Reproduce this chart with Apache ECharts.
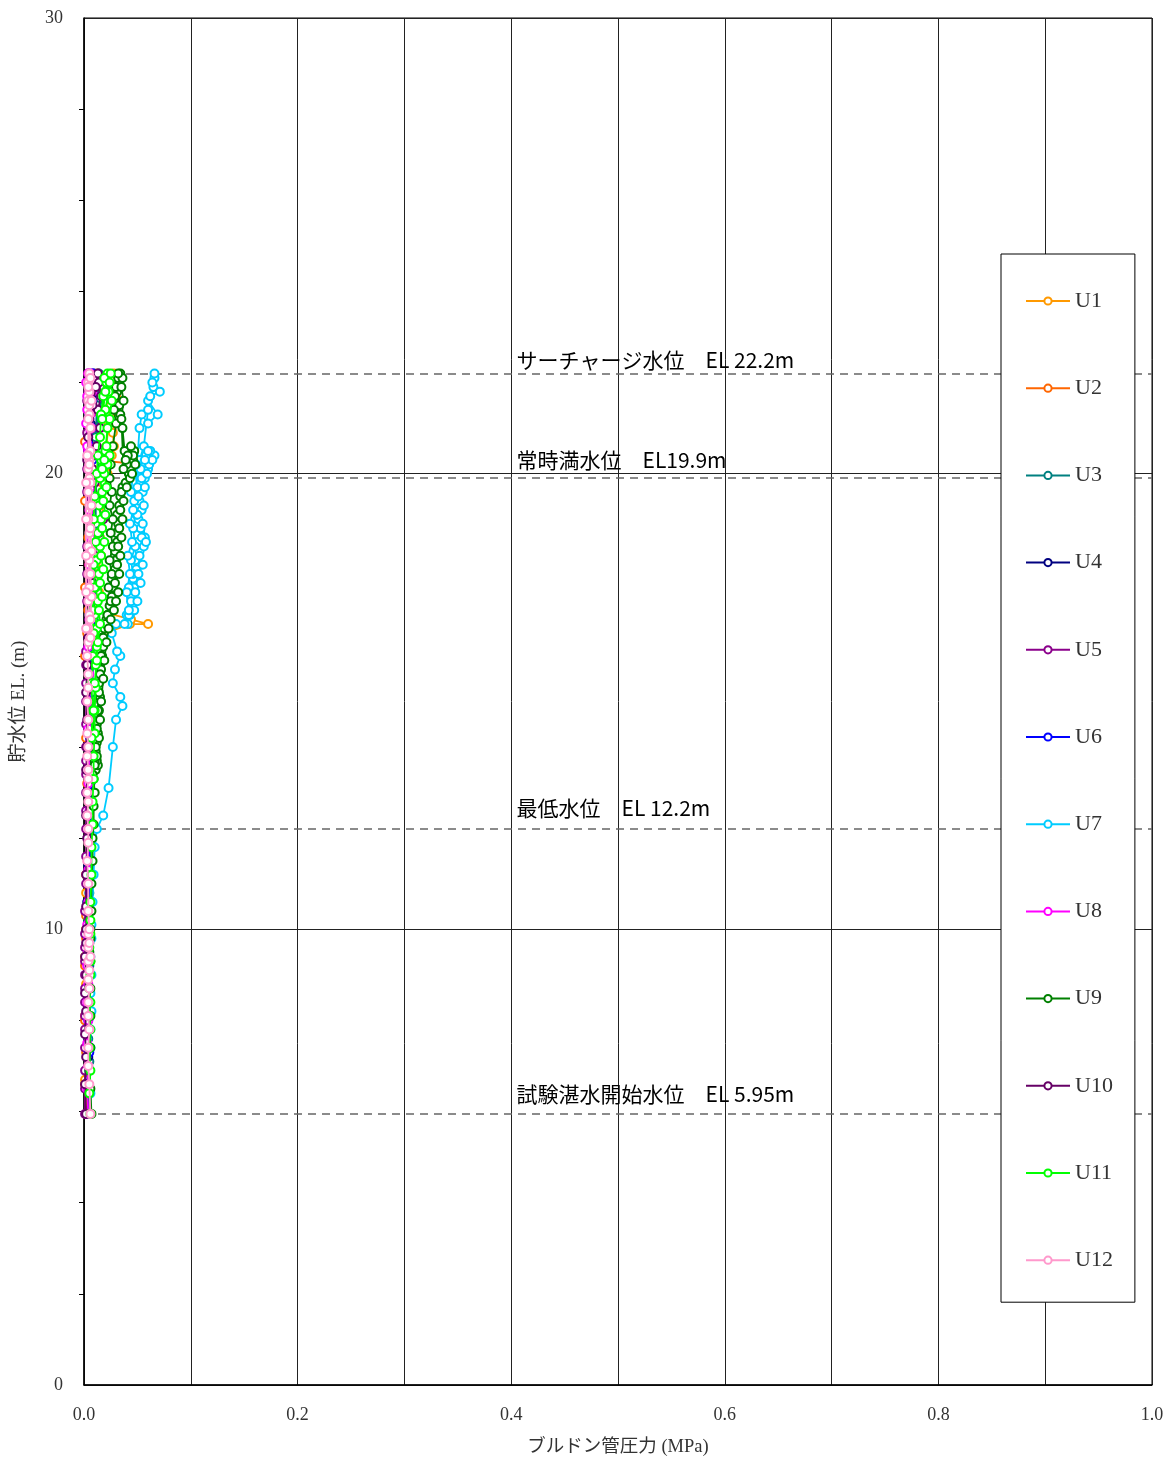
<!DOCTYPE html>
<html><head><meta charset="utf-8">
<script src="https://cdn.jsdelivr.net/npm/echarts@6/dist/echarts.min.js"></script>
<style>html,body{margin:0;padding:0;background:#fff}#c{width:1173px;height:1459px}</style>
</head><body><div id="c"></div>
<script>
const seriesNames = ['U1','U2','U3','U4','U5','U6','U7','U8','U9','U10','U11','U12'];
const seriesColors = ['#FF9900','#FF6600','#008080','#000080','#8B008B','#0000FF','#00CCFF','#FF00FF','#008000','#660066','#00FF00','#FF99CC'];
const xTicks = [0,0.2,0.4,0.6,0.8,1.0];
const refLevels = [22.2, 19.9, 12.2, 5.95];
const refTexts = ['サーチャージ水位　EL 22.2m','常時満水位　EL19.9m','最低水位　EL 12.2m','試験湛水開始水位　EL 5.95m'];

const U1 = [[0.002,5.95],[0.001,6.7],[0.002,7.4],[0.001,8.1],[0.002,8.8],[0.001,9.4],[0.002,10.0],[0.002,10.8],[0.003,11.6],[0.003,12.2],[0.004,13.0],[0.004,13.8],[0.005,14.6],[0.005,15.3],[0.006,16.0],[0.008,16.4],[0.043,16.7],[0.060,16.7],[0.044,16.8],[0.012,17.0],[0.014,17.4],[0.013,17.8],[0.016,18.2],[0.015,18.6],[0.017,19.0],[0.018,19.4],[0.020,19.7],[0.022,20.0],[0.024,20.2],[0.026,20.4],[0.028,20.6],[0.027,20.9],[0.029,21.2],[0.026,21.5],[0.030,21.7],[0.031,21.9],[0.029,22.1],[0.028,22.2],[0.027,21.9],[0.025,21.5],[0.023,21.1],[0.021,20.6],[0.019,20.2],[0.017,19.8],[0.015,19.3]];
const U2 = [[0.002,5.95],[0.001,6.6],[0.002,7.3],[0.001,8.0],[0.002,8.6],[0.001,9.2],[0.002,9.8],[0.002,10.3],[0.002,11.2],[0.003,12.2],[0.003,13.2],[0.002,14.2],[0.003,15.2],[0.001,16.0],[0.003,16.5],[0.004,17.0],[0.001,17.5],[0.005,18.0],[0.004,18.6],[0.006,19.2],[0.001,19.4],[0.007,19.8],[0.009,20.2],[0.001,20.7],[0.010,21.2],[0.012,21.7],[0.013,22.2],[0.011,21.8],[0.009,21.0],[0.010,20.3],[0.056,20.2]];
const U3 = [[0.005,5.95],[0.004,6.5],[0.005,7.1],[0.004,7.6],[0.005,8.2],[0.004,8.7],[0.005,9.2],[0.005,9.7],[0.004,10.2],[0.005,10.8],[0.006,11.5],[0.006,12.2],[0.007,13.0],[0.007,13.8],[0.008,14.6],[0.008,15.4],[0.009,16.2],[0.009,16.8],[0.010,17.5],[0.010,18.2],[0.011,18.9],[0.011,19.5],[0.012,20.0],[0.012,20.4],[0.013,21.0],[0.013,21.6],[0.014,22.2],[0.012,21.5],[0.011,20.8],[0.010,20.2]];
const U4 = [[0.004,5.95],[0.003,6.6],[0.004,7.2],[0.003,7.8],[0.004,8.4],[0.003,9.0],[0.004,9.5],[0.004,10.0],[0.003,10.6],[0.004,11.4],[0.004,12.2],[0.005,13.0],[0.004,13.8],[0.005,14.6],[0.005,15.4],[0.006,16.2],[0.005,16.9],[0.006,17.6],[0.006,18.3],[0.007,19.0],[0.006,19.6],[0.007,20.1],[0.008,20.5],[0.007,21.0],[0.008,21.6],[0.009,22.2],[0.007,21.7],[0.006,21.1],[0.006,20.4]];
const U5 = [[0.001,5.95],[0.001,6.5],[0.001,6.9],[0.001,7.4],[0.001,7.8],[0.001,8.1],[0.001,8.4],[0.001,8.7],[0.001,9.0],[0.001,9.3],[0.001,9.6],[0.001,9.9],[0.001,10.4],[0.002,11.0],[0.002,11.6],[0.002,12.2],[0.002,12.6],[0.002,13.0],[0.002,13.4],[0.002,13.7],[0.002,14.0],[0.002,14.5],[0.002,15.0],[0.002,15.4],[0.002,15.8],[0.002,16.1],[0.003,16.6],[0.003,17.2],[0.003,17.8],[0.003,18.4],[0.003,19.0],[0.003,19.6],[0.003,20.1],[0.004,20.5],[0.004,21.2],[0.004,21.8],[0.004,22.2],[0.003,21.6],[0.003,20.9]];
const U6 = [[0.005,5.95],[0.004,6.6],[0.005,7.3],[0.004,8.0],[0.005,8.6],[0.004,9.2],[0.005,9.8],[0.005,10.4],[0.005,11.2],[0.006,12.2],[0.006,13.2],[0.006,14.2],[0.007,15.2],[0.007,16.0],[0.006,16.7],[0.007,17.4],[0.008,18.0],[0.007,18.7],[0.008,19.3],[0.009,19.9],[0.008,20.3],[0.006,20.6],[0.005,21.2],[0.007,21.6],[0.009,21.9],[0.010,22.1],[0.008,22.2],[0.006,21.8],[0.005,21.3]];
const U7 = [[0.006,5.95],[0.006,6.4],[0.005,6.9],[0.006,7.4],[0.006,7.8],[0.007,8.2],[0.006,8.6],[0.007,9.0],[0.006,9.4],[0.007,9.8],[0.007,10.1],[0.008,10.6],[0.009,11.2],[0.010,11.8],[0.012,12.2],[0.018,12.5],[0.023,13.1],[0.027,14.0],[0.030,14.6],[0.036,14.9],[0.034,15.1],[0.027,15.4],[0.029,15.7],[0.034,16.0],[0.031,16.1],[0.026,16.5],[0.030,16.7],[0.041,16.7],[0.043,16.9],[0.045,17.1],[0.044,17.3],[0.047,17.5],[0.046,17.7],[0.049,17.9],[0.048,18.1],[0.052,18.3],[0.050,18.5],[0.057,18.6],[0.053,18.8],[0.051,19.0],[0.054,19.2],[0.052,19.4],[0.055,19.6],[0.053,19.8],[0.057,19.9],[0.060,20.1],[0.063,20.3],[0.066,20.4],[0.062,20.5],[0.058,20.4],[0.054,20.2],[0.050,20.3],[0.052,21.0],[0.054,21.3],[0.060,21.1],[0.069,21.3],[0.060,21.6],[0.065,21.9],[0.066,22.1],[0.066,22.2],[0.064,22.0],[0.071,21.8],[0.062,21.7],[0.060,21.4],[0.056,20.6],[0.052,20.3],[0.048,20.0],[0.050,19.7],[0.047,19.4],[0.049,19.1],[0.046,18.8],[0.048,18.4],[0.044,18.1],[0.046,17.8],[0.042,17.5],[0.044,17.2],[0.040,16.9],[0.038,16.7],[0.042,16.9],[0.047,17.0],[0.050,17.2],[0.048,17.4],[0.053,17.6],[0.051,17.8],[0.055,18.0],[0.052,18.2],[0.056,18.4],[0.054,18.6],[0.058,18.5],[0.055,18.9],[0.050,19.1],[0.056,19.3],[0.051,19.5],[0.057,19.7],[0.054,19.9],[0.059,20.0],[0.061,20.2],[0.064,20.3],[0.060,20.5],[0.057,20.3],[0.053,20.1],[0.049,20.2],[0.046,20.0],[0.044,19.6],[0.046,19.2],[0.043,18.9],[0.045,18.5],[0.041,18.2],[0.043,17.8],[0.040,17.4],[0.042,17.0]];
const U8 = [[0.004,5.95],[0.003,6.5],[0.004,7.0],[0.003,7.5],[0.004,8.0],[0.003,8.4],[0.004,8.8],[0.003,9.2],[0.004,9.5],[0.004,9.8],[0.003,10.1],[0.004,10.6],[0.004,11.3],[0.004,12.0],[0.005,12.6],[0.004,13.2],[0.005,13.8],[0.004,14.4],[0.005,15.0],[0.005,15.6],[0.004,16.2],[0.005,16.8],[0.006,17.4],[0.005,18.0],[0.006,18.6],[0.005,19.2],[0.006,19.7],[0.007,20.1],[0.006,20.4],[0.007,21.0],[0.006,21.5],[0.008,21.8],[0.007,22.0],[0.006,22.2],[0.005,21.9],[0.007,21.6],[0.006,21.3],[0.004,20.5],[0.005,20.2],[0.003,20.6],[0.002,21.1],[0.003,21.4],[0.003,21.7],[0.002,22.0],[0.004,22.2]];
const U9 = [[0.007,5.95],[0.006,6.5],[0.005,6.9],[0.006,7.4],[0.005,7.8],[0.006,8.1],[0.005,8.4],[0.006,8.7],[0.005,9.0],[0.006,9.3],[0.005,9.5],[0.006,9.8],[0.006,10.0],[0.007,10.4],[0.007,11.0],[0.008,11.5],[0.008,12.0],[0.009,12.3],[0.009,12.7],[0.010,13.0],[0.009,13.3],[0.011,13.5],[0.013,13.6],[0.012,13.7],[0.011,13.9],[0.012,14.1],[0.013,14.3],[0.012,14.5],[0.014,14.8],[0.015,15.1],[0.014,15.4],[0.016,15.7],[0.017,16.0],[0.018,16.2],[0.017,16.4],[0.019,16.6],[0.021,16.8],[0.022,16.9],[0.024,17.1],[0.026,17.3],[0.027,17.5],[0.026,17.7],[0.029,17.9],[0.030,18.1],[0.029,18.3],[0.031,18.5],[0.030,18.7],[0.032,18.9],[0.031,19.1],[0.033,19.3],[0.034,19.5],[0.036,19.7],[0.039,19.8],[0.042,20.0],[0.044,20.1],[0.046,20.3],[0.047,20.5],[0.043,20.4],[0.040,20.2],[0.038,20.5],[0.036,21.0],[0.034,21.3],[0.033,21.5],[0.031,21.8],[0.033,22.0],[0.034,22.2],[0.032,22.1],[0.030,21.9],[0.029,21.7],[0.028,21.4],[0.030,21.1],[0.027,20.6],[0.025,20.2],[0.024,19.9],[0.026,19.6],[0.024,19.3],[0.027,19.0],[0.025,18.7],[0.027,18.4],[0.024,18.1],[0.026,17.8],[0.023,17.5],[0.025,17.2],[0.022,16.9],[0.020,16.7],[0.018,16.4],[0.016,16.0],[0.015,15.6],[0.014,15.2],[0.013,14.8],[0.012,14.4],[0.011,14.0],[0.010,13.7],[0.008,13.4],[0.010,13.6],[0.012,13.8],[0.014,14.2],[0.015,14.6],[0.016,15.0],[0.018,15.5],[0.019,15.9],[0.021,16.3],[0.023,16.6],[0.025,16.8],[0.028,17.0],[0.030,17.2],[0.032,17.4],[0.029,17.6],[0.033,17.8],[0.031,18.0],[0.034,18.2],[0.032,18.4],[0.035,18.6],[0.033,18.8],[0.036,19.0],[0.034,19.2],[0.037,19.4],[0.035,19.6],[0.040,19.7],[0.043,19.9],[0.045,20.0],[0.048,20.2],[0.046,20.4],[0.044,20.6],[0.041,20.4],[0.039,20.3],[0.037,20.1],[0.035,21.2],[0.037,21.6],[0.035,21.9],[0.036,22.1],[0.032,22.2]];
const U10 = [[0.002,5.95],[0.001,6.6],[0.002,7.2],[0.001,7.7],[0.002,8.2],[0.001,8.6],[0.002,9.0],[0.001,9.4],[0.002,9.7],[0.002,10.0],[0.002,10.5],[0.002,11.2],[0.003,12.0],[0.002,12.5],[0.003,13.0],[0.002,13.5],[0.003,14.0],[0.003,14.6],[0.002,15.2],[0.003,15.8],[0.004,16.4],[0.006,17.0],[0.008,17.6],[0.010,18.2],[0.014,18.7],[0.018,19.0],[0.012,19.4],[0.010,19.8],[0.008,20.1],[0.009,20.4],[0.012,20.6],[0.015,21.0],[0.013,21.4],[0.016,21.7],[0.014,22.0],[0.013,22.2],[0.011,21.9],[0.008,21.5],[0.005,21.2],[0.004,20.8],[0.003,20.3]];
const U11 = [[0.006,5.95],[0.005,6.4],[0.006,6.9],[0.005,7.4],[0.006,7.8],[0.005,8.1],[0.006,8.4],[0.005,8.7],[0.006,9.0],[0.006,9.3],[0.005,9.6],[0.006,9.9],[0.006,10.2],[0.006,10.6],[0.007,11.2],[0.007,11.8],[0.008,12.3],[0.008,12.8],[0.009,13.3],[0.009,13.8],[0.010,14.3],[0.010,14.8],[0.011,15.3],[0.011,15.8],[0.012,16.2],[0.012,16.6],[0.010,16.9],[0.013,17.2],[0.011,17.5],[0.014,17.8],[0.012,18.1],[0.015,18.4],[0.013,18.7],[0.016,19.0],[0.014,19.3],[0.017,19.6],[0.015,19.9],[0.018,20.1],[0.016,20.3],[0.020,20.5],[0.022,21.0],[0.020,21.4],[0.023,21.8],[0.021,22.0],[0.022,22.2],[0.019,22.1],[0.018,21.7],[0.016,21.3],[0.015,20.8],[0.013,20.4],[0.012,20.0],[0.010,19.5],[0.009,19.0],[0.011,18.5],[0.009,18.0],[0.010,17.5],[0.008,17.0],[0.009,16.5],[0.008,16.0],[0.007,15.4],[0.008,14.8],[0.007,14.2],[0.009,14.8],[0.010,15.4],[0.012,15.9],[0.013,16.3],[0.015,16.7],[0.014,17.0],[0.017,17.3],[0.015,17.6],[0.018,17.9],[0.016,18.2],[0.019,18.5],[0.017,18.8],[0.020,19.1],[0.018,19.4],[0.021,19.7],[0.019,20.0],[0.022,20.2],[0.024,20.4],[0.021,20.6],[0.019,20.3],[0.017,20.1],[0.024,21.2],[0.026,21.6],[0.024,22.0],[0.025,22.2],[0.020,21.8],[0.017,21.2]];
const U12 = [[0.006,5.95],[0.005,6.6],[0.004,7.0],[0.004,7.4],[0.005,7.8],[0.004,8.1],[0.004,8.4],[0.005,8.7],[0.004,8.9],[0.005,9.1],[0.004,9.3],[0.006,9.4],[0.004,9.6],[0.005,9.7],[0.004,9.9],[0.005,10.0],[0.004,10.4],[0.004,11.0],[0.003,11.5],[0.004,11.9],[0.004,12.2],[0.003,12.5],[0.004,12.8],[0.003,13.0],[0.004,13.3],[0.004,13.5],[0.003,13.8],[0.004,14.0],[0.003,14.3],[0.004,14.6],[0.003,15.0],[0.004,15.3],[0.004,15.6],[0.003,16.0],[0.004,16.3],[0.004,16.6],[0.005,16.9],[0.004,17.2],[0.005,17.5],[0.004,17.8],[0.005,18.1],[0.004,18.4],[0.005,18.7],[0.004,19.0],[0.005,19.3],[0.004,19.6],[0.005,19.9],[0.004,20.1],[0.005,20.3],[0.006,20.5],[0.005,21.3],[0.004,21.6],[0.005,21.8],[0.004,22.0],[0.005,22.2],[0.004,21.9],[0.005,21.5],[0.004,21.2],[0.004,20.4],[0.005,20.2],[0.006,19.8],[0.007,19.3],[0.006,18.8],[0.007,18.3],[0.006,17.8],[0.007,17.3],[0.006,16.8],[0.006,16.4],[0.002,16.6],[0.002,17.4],[0.002,18.2],[0.002,19.0],[0.002,19.8],[0.003,20.4],[0.006,21.0],[0.007,21.6],[0.006,22.1]];
const seriesData = [U1,U2,U3,U4,U5,U6,U7,U8,U9,U10,U11,U12];

const serif = "'Liberation Serif','DejaVu Serif','Noto Sans CJK JP',serif";
const chart = echarts.init(document.getElementById('c'), null, {renderer:'canvas'});

const series = seriesNames.map((n,i)=>({
  name:n, type:'line', data:seriesData[i], symbol:'circle', symbolSize:8, showSymbol:true,
  itemStyle:{color:'#fff', borderColor:seriesColors[i], borderWidth:2},
  lineStyle:{color:seriesColors[i], width:1.8},
  emphasis:{disabled:true}, z:2+i
}));
series.push({
  name:'ref', type:'line', data:[], silent:true, z:1,
  markLine:{symbol:'none', silent:true, label:{show:false},
    lineStyle:{color:'#666', type:[8,6], width:1.5},
    data: refLevels.map(v=>({yAxis:v}))}
});

chart.setOption({
  animation:false,
  backgroundColor:'#fff',
  grid:{left:84, top:18, width:1068, height:1367, show:true, borderColor:'#000', borderWidth:1,
    containLabel:false, outerBoundsMode:'none'},
  xAxis:{type:'value', min:0, max:1, interval:0.1,
    axisLine:{show:true, lineStyle:{color:'#000', width:1.5}},
    axisTick:{show:false},
    axisLabel:{color:'#333', fontFamily:serif, fontSize:18, margin:21,
      formatter:v=> xTicks.some(t=>Math.abs(t-v)<1e-6) ? v.toFixed(1) : ''},
    splitLine:{show:true, lineStyle:{color:'#222', width:1}},
    name:'ブルドン管圧力 (MPa)', nameLocation:'middle', nameGap:53,
    nameTextStyle:{color:'#333', fontFamily:serif, fontSize:18.5}},
  yAxis:{type:'value', min:0, max:30, interval:10,
    axisLine:{show:true, lineStyle:{color:'#000', width:1.5}},
    axisTick:{show:false},
    minorTick:{show:true, splitNumber:5, length:5, lineStyle:{color:'#000'}},
    axisLabel:{color:'#333', fontFamily:serif, fontSize:18, margin:21},
    splitLine:{show:true, lineStyle:{color:'#222', width:1}},
    name:'貯水位 EL. (m)', nameLocation:'middle', nameGap:55, nameRotate:90,
    nameTextStyle:{color:'#333', fontFamily:serif, fontSize:19}},
  legend:{data:seriesNames, orient:'vertical', left:1001, top:254, z:50,
    backgroundColor:'#fff', borderColor:'#000', borderWidth:1,
    padding:[36,22,31,24], itemWidth:44, itemHeight:9, itemGap:65.2,
    textStyle:{color:'#333', fontFamily:serif, fontSize:22}},
  series:series
});

const graphics = refLevels.map((v,i)=>{
  const p = chart.convertToPixel({gridIndex:0},[0.405, v]);
  const dy = [-13,-18,-21,-20][i];
  return {type:'text', x:p[0], y:p[1]+dy, z:100,
    style:{text:refTexts[i], fill:'#000', font:"21px 'Noto Sans CJK JP','Noto Sans',sans-serif", textVerticalAlign:'middle', textAlign:'left'}};
});
chart.setOption({graphic:graphics});
</script></body></html>
